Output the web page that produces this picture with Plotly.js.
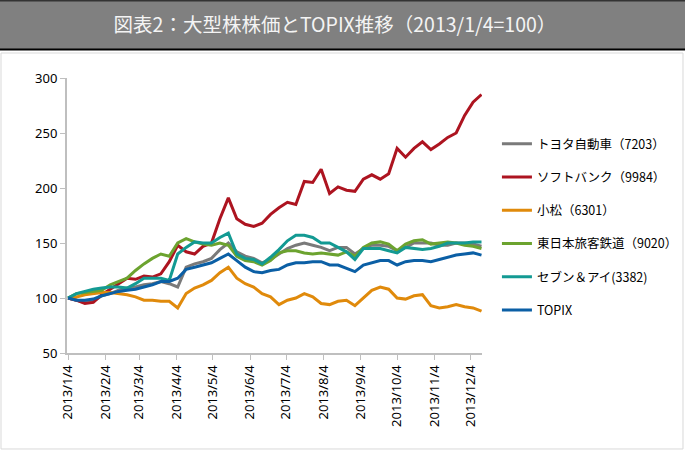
<!DOCTYPE html>
<html>
<head>
<meta charset="utf-8">
<script src="https://cdn.plot.ly/plotly-3.0.1.min.js"></script>
<style>
html,body{margin:0;padding:0;background:#fff;}
#chart{width:685px;height:451px;}
</style>
</head>
<body>
<div id="chart"></div>
<script>
// Weekly dates (Fridays) from 2013/1/4
const dates = ["2013-01-04","2013-01-11","2013-01-18","2013-01-25","2013-02-01","2013-02-08","2013-02-15","2013-02-22","2013-03-01","2013-03-08",
"2013-03-15","2013-03-22","2013-03-29","2013-04-05","2013-04-12","2013-04-19","2013-04-26","2013-05-03","2013-05-10","2013-05-17",
"2013-05-24","2013-05-31","2013-06-07","2013-06-14","2013-06-21","2013-06-28","2013-07-05","2013-07-12","2013-07-19","2013-07-26",
"2013-08-02","2013-08-09","2013-08-16","2013-08-23","2013-08-30","2013-09-06","2013-09-13","2013-09-20","2013-09-27","2013-10-04",
"2013-10-11","2013-10-18","2013-10-25","2013-11-01","2013-11-08","2013-11-15","2013-11-22","2013-11-29","2013-12-06","2013-12-13"];

const seriesNames = ["トヨタ自動車（7203）","ソフトバンク（9984）","小松（6301）","東日本旅客鉄道（9020）","セブン＆アイ(3382)","TOPIX"];

const toyota = [100,98,96,97,102,104,107,109,110,112,113,115,113,110,128,131,133,136,144,150,142,138,136,132,135,140,145,148,150,148,146,143,146,146,140,145,148,148,147,143,146,150,150,150,148,148,150,150,149,147];
const softbank = [100,98,95,96,103,108,113,118,117,120,119,122,133,148,142,140,147,150,172,191,172,167,165,168,176,182,187,185,206,205,217,195,201,198,197,208,212,208,213,236,228,236,242,235,240,246,250,266,278,285];
const komatsu = [100,101,103,104,105,105,104,103,101,98,98,97,97,91,104,109,112,116,123,128,118,113,110,104,101,94,98,100,104,101,95,94,97,98,93,100,107,110,108,100,99,102,103,93,91,92,94,92,91,88];
const jrEast = [100,104,105,106,107,112,115,118,125,131,136,140,138,150,154,151,149,148,150,148,138,134,133,130,134,141,143,143,141,140,141,140,139,142,138,146,150,151,149,143,149,152,153,149,150,151,150,148,147,145];
const sevenI = [100,104,106,108,109,110,110,109,113,118,118,118,116,140,146,151,150,150,155,159,140,136,135,131,137,144,152,157,157,155,150,150,146,142,135,145,145,145,143,141,146,145,144,145,147,150,150,150,151,151];
const topix = [100,98,98,99,102,104,106,107,108,110,112,115,115,118,126,128,130,132,136,140,134,128,124,123,125,126,130,132,132,133,133,130,130,127,124,130,132,134,134,130,133,134,134,133,135,137,139,140,141,139];

const tickDates = ["2013-01-04","2013-02-04","2013-03-04","2013-04-04","2013-05-04","2013-06-04","2013-07-04","2013-08-04","2013-09-04","2013-10-04","2013-11-04","2013-12-04"];
const tickLabels = ["2013/1/4","2013/2/4","2013/3/4","2013/4/4","2013/5/4","2013/6/4","2013/7/4","2013/8/4","2013/9/4","2013/10/4","2013/11/4","2013/12/4"];
const yTicks = [50,100,150,200,250,300];

const colors = ["#7a7a7a","#ad1420","#e08a0b","#6ca32f","#139a93","#0b5fa5"];
const values = [toyota, softbank, komatsu, jrEast, sevenI, topix];

const traces = values.map((v,i)=>({
  type:'scatter', mode:'lines', x:dates, y:v, name:seriesNames[i],
  legendgroup:'g'+i,
  line:{color:colors[i], width:3}
}));
const font = "'Noto Sans', 'Noto Sans CJK JP', sans-serif";

const layout = {
  width:685, height:451,
  margin:{l:67, r:203, t:78, b:98, autoexpand:false},
  paper_bgcolor:'#ffffff', plot_bgcolor:'#ffffff',
  showlegend:true,
  title:{text:"図表2：大型株株価とTOPIX推移（2013/1/4=100）", xref:'container', yref:'container', x:0.489, xanchor:'center', y:0.945, yanchor:'middle',
    font:{family:"'Noto Sans CJK JP', sans-serif", size:19.5, color:'#f4f4f4'}},
  xaxis:{type:'date', range:['2013-01-03 04:00','2013-12-13 10:00'], tickvals:tickDates, ticktext:tickLabels, tickangle:-90,
    showgrid:false, zeroline:false, showline:true, linecolor:'#bfbfbf', linewidth:2, ticks:'outside', ticklen:5, tickcolor:'#bfbfbf', tickwidth:1,
    automargin:false, tickfont:{family:font, size:13, color:'#000'}},
  yaxis:{range:[50,300], tickvals:yTicks, showgrid:false, zeroline:false, showline:true, linecolor:'#bfbfbf', linewidth:2,
    ticks:'outside', ticklen:5, tickcolor:'#bfbfbf', tickwidth:1, automargin:false, tickfont:{family:font, size:13, color:'#000'}},
  legend:{x:1.036, xanchor:'left', y:0.814, yanchor:'top', tracegroupgap:14, font:{family:"'Noto Sans CJK JP', sans-serif", size:12.5, color:'#000'}, bgcolor:'rgba(0,0,0,0)'},
  shapes:[
    {type:'rect', xref:'paper', yref:'paper', x0:-0.159, x1:1.4843, y0:-0.349, y1:1.0909, line:{color:'#d9d9d9', width:1}, fillcolor:'rgba(0,0,0,0)', layer:'below'},
    {type:'rect', xref:'paper', yref:'paper', x0:-0.17, x1:1.5, y0:1.1018, y1:1.30, line:{width:0}, fillcolor:'#808080', layer:'below'},
    {type:'line', xref:'paper', yref:'paper', x0:-0.17, x1:1.5, y0:1.1036, y1:1.1036, line:{color:'#000', width:2}, layer:'below'},
    {type:'line', xref:'paper', yref:'paper', x0:-0.17, x1:1.5, y0:1.2818, y1:1.2818, line:{color:'#333', width:2}, layer:'below'}
  ]
};
Plotly.newPlot('chart', traces, layout, {displayModeBar:false, staticPlot:true});
</script>
</body>
</html>
